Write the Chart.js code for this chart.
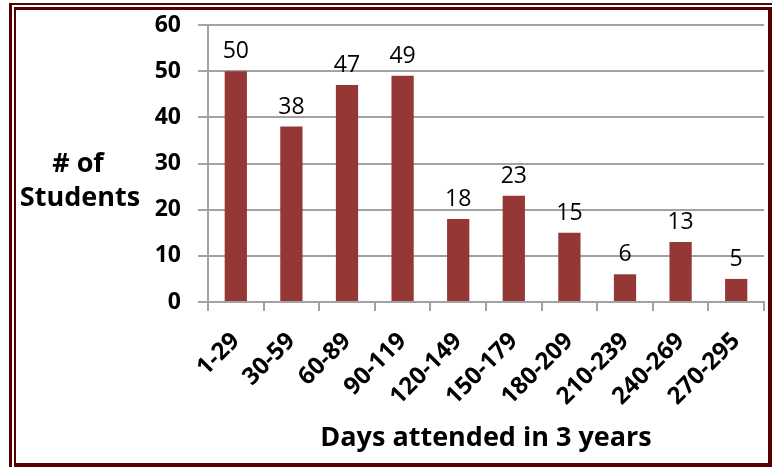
<!DOCTYPE html>
<html>
<head>
<meta charset="utf-8">
<script src="https://cdn.jsdelivr.net/npm/chart.js@4"></script>
<style>
  html, body { margin: 0; padding: 0; background: #ffffff; }
  #wrap { position: relative; width: 772px; height: 467px; overflow: hidden; background: #ffffff; }
  #c { position: absolute; left: 0; top: 0; }
  .frame { position: absolute; box-sizing: border-box; pointer-events: none; }
  #outer { left: 9px; top: 3px; width: 800px; height: 500px; border-left: 3px solid #560000; border-top: 2px solid #560000; }
  #inner { left: 14px; top: 7px; width: 758px; height: 460px;
           border-left: 2px solid #560000; border-top: 3px solid #560000;
           border-right: 4px solid #560000; border-bottom: 4px solid #560000; }
</style>
</head>
<body>
<div id="wrap">
  <canvas id="c" width="772" height="467"></canvas>
  <div id="outer" class="frame"></div>
  <div id="inner" class="frame"></div>
</div>
<script>
const categories = ['1-29', '30-59', '60-89', '90-119', '120-149', '150-179', '180-209', '210-239', '240-269', '270-295'];
const students = [50, 38, 47, 49, 18, 23, 15, 6, 13, 5];
const yTitleLines = ['# of', 'Students'];
const xTitle = 'Days attended in 3 years';

const FONT = "'Open Sans', 'DejaVu Sans', sans-serif";
const GRID = '#a2a2a2';
const BAR = '#953735';

// value printed above each bar
const barValues = {
  id: 'barValues',
  afterDatasetsDraw(chart) {
    const ctx = chart.ctx;
    const meta = chart.getDatasetMeta(0);
    ctx.save();
    ctx.font = '23px ' + FONT;
    ctx.fillStyle = '#000000';
    ctx.textAlign = 'center';
    ctx.textBaseline = 'alphabetic';
    meta.data.forEach((bar, i) => {
      ctx.fillText(String(chart.data.datasets[0].data[i]), bar.x, bar.y - 13);
    });
    ctx.restore();
  }
};

// horizontal two-line title left of the value axis
const sideTitle = {
  id: 'sideTitle',
  afterDraw(chart) {
    const ctx = chart.ctx;
    ctx.save();
    ctx.font = 'bold 27px ' + FONT;
    ctx.fillStyle = '#000000';
    ctx.textAlign = 'center';
    ctx.textBaseline = 'alphabetic';
    ctx.fillText(yTitleLines[0], 78, 172);
    ctx.fillText(yTitleLines[1], 80, 206);
    ctx.restore();
  }
};

new Chart(document.getElementById('c'), {
  type: 'bar',
  data: {
    labels: categories,
    datasets: [{
      data: students,
      backgroundColor: BAR,
      borderWidth: 0,
      categoryPercentage: 1.0,
      barPercentage: 0.4
    }]
  },
  options: {
    responsive: false,
    animation: false,
    layout: { padding: { left: 0, top: 25, right: 8, bottom: 0 } },
    plugins: { legend: { display: false }, tooltip: { enabled: false } },
    scales: {
      y: {
        min: 0,
        max: 60,
        ticks: {
          stepSize: 10,
          color: '#000000',
          padding: 17,
          font: { family: FONT, size: 23, weight: 'bold' }
        },
        grid: { color: GRID, lineWidth: 2, tickLength: 10, drawTicks: true },
        border: { color: GRID, width: 2 },
        afterFit(scale) {
          scale.width = 208;
          scale.paddingTop = 0;
          scale.paddingBottom = 0;
        }
      },
      x: {
        ticks: {
          color: '#000000',
          autoSkip: false,
          minRotation: 45,
          maxRotation: 45,
          padding: 16,
          font: { family: FONT, size: 24, weight: 'bold' }
        },
        grid: { drawOnChartArea: false, drawTicks: true, tickLength: 9, color: GRID, lineWidth: 2 },
        border: { color: GRID, width: 2 },
        title: {
          display: true,
          text: xTitle,
          color: '#000000',
          font: { family: FONT, size: 27, weight: 'bold' },
          padding: { top: 0, bottom: 12 }
        },
        afterFit(scale) {
          scale.height = 165;
          scale.paddingLeft = 0;
          scale.paddingRight = 0;
        }
      }
    }
  },
  plugins: [barValues, sideTitle]
});
</script>
</body>
</html>
